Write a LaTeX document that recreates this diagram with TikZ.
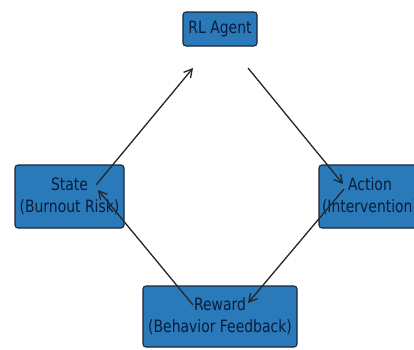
\documentclass[tikz,border=0pt]{standalone}
\usepackage{fontspec}
\setmainfont{DejaVu Sans}[FakeStretch=0.82]
\usetikzlibrary{arrows.meta}
\definecolor{boxfill}{RGB}{42,122,185}
\definecolor{boxline}{RGB}{25,38,58}
\definecolor{boxtext}{RGB}{10,28,60}
\tikzset{
  box/.style={draw=boxline, fill=boxfill, line width=1.1pt, rounded corners=3pt, align=center,
    text=boxtext, inner sep=0pt, font=\fontsize{17}{22}\selectfont},
  flow/.style={-{Straight Barb[length=8pt,width=9pt]}, line width=1.3pt, draw=black!85}
}
\begin{document}
\begin{tikzpicture}[x=1pt, y=-1pt]
\clip (0,0) rectangle (414,349);
\fill[white] (0,0) rectangle (414,349);
\node[box, minimum width=74pt, minimum height=34pt] (agent) at (220,29) {RL Agent};
\node[box, minimum width=109pt, minimum height=63pt] (state) at (69.5,196.5) {State\\(Burnout Risk)};
\node[box, minimum width=102pt, minimum height=63pt] (action) at (370,196.5) {Action\\(Intervention)};
\node[box, minimum width=154pt, minimum height=61pt] (reward) at (220,316.5) {Reward\\(Behavior Feedback)};
\coordinate (s-out) at (96,185);
\coordinate (s-in) at (98,190);
\coordinate (g-in) at (193,68);
\coordinate (g-out) at (248,68);
\coordinate (a-in) at (343,184);
\coordinate (a-out) at (344,189);
\coordinate (r-in) at (248,303);
\coordinate (r-out) at (193,305);
\draw[flow] (s-out) -- (g-in);
\draw[flow] (g-out) -- (a-in);
\draw[flow] (a-out) -- (r-in);
\draw[flow] (r-out) -- (s-in);
\end{tikzpicture}
\end{document}
